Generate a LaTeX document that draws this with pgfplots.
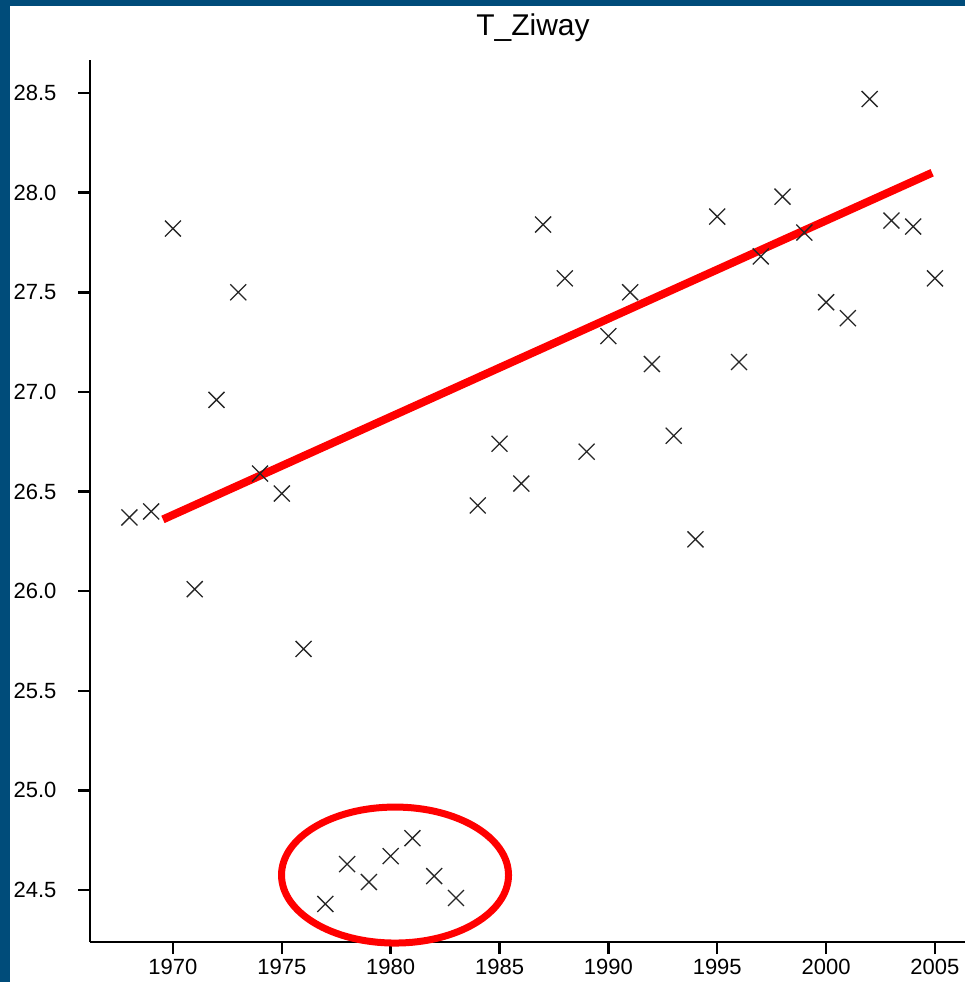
\documentclass[border=0pt]{standalone}
\usepackage{pgfplots}
\pgfplotsset{compat=1.18}
\usepackage{fontspec}
\setmainfont{Liberation Sans}
\definecolor{framebl}{RGB}{0,76,122}
\begin{document}
\begin{tikzpicture}
\useasboundingbox (0pt,0pt) rectangle (965pt,992pt);
\fill[white] (0pt,0pt) rectangle (965pt,992pt);
\fill[framebl] (0pt,10pt) rectangle (10pt,992pt);
\fill[framebl] (0pt,986pt) rectangle (965pt,992pt);
\node[anchor=base, font=\fontsize{30}{34}\selectfont, inner sep=0pt] at (533pt,956pt) {T\_Ziway};
\begin{axis}[
  at={(90pt,50pt)}, anchor=south west,
  scale only axis, width=875pt, height=882pt,
  xmin=1966.19, xmax=2006.38, ymin=24.239, ymax=28.666,
  axis x line=bottom, axis y line=left,
  axis line style={-, line width=2.5pt},
  tick align=outside, major tick length=12pt,
  every tick/.style={black, line width=2.5pt},
  xtick={1970,1975,...,2005},
  ytick={24.5,25,...,28.5},
  /pgf/number format/assume math mode=true,
  ticklabel style={font=\fontsize{22}{25}\selectfont},
  xticklabel style={/pgf/number format/1000 sep={}, yshift=-2pt},
  yticklabel style={/pgf/number format/fixed, /pgf/number format/fixed zerofill, /pgf/number format/precision=1, xshift=-18pt},
  clip=false,
]
\addplot[only marks, mark=x, mark size=11.3pt, mark options={line width=1.3pt, black!85}] coordinates {
(1968,26.37) (1969,26.40) (1970,27.82) (1971,26.01) (1972,26.96) (1973,27.50)
(1974,26.59) (1975,26.49) (1976,25.71) (1977,24.43) (1978,24.63) (1979,24.54)
(1980,24.67) (1981,24.76) (1982,24.57) (1983,24.46) (1984,26.43) (1985,26.74)
(1986,26.54) (1987,27.84) (1988,27.57) (1989,26.70) (1990,27.28) (1991,27.50)
(1992,27.14) (1993,26.78) (1994,26.26) (1995,27.88) (1996,27.15) (1997,27.68)
(1998,27.98) (1999,27.80) (2000,27.45) (2001,27.37) (2002,28.47) (2003,27.86)
(2004,27.83) (2005,27.57)
};
\addplot[red, line width=8pt, line cap=butt] coordinates {(1969.54,26.36) (2004.87,28.10)};
\draw[red, line width=7pt] (axis cs:1980.2,24.575) ellipse [x radius=113.5pt, y radius=68pt];
\end{axis}
\end{tikzpicture}
\end{document}
